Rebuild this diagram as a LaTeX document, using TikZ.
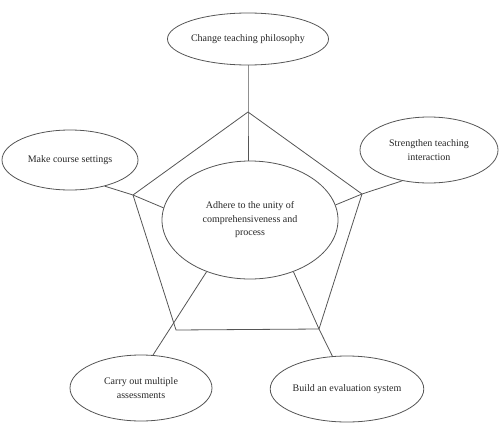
\documentclass[tikz,border=0pt]{standalone}
\usepackage{fontspec}
\setmainfont{Liberation Serif}
\usetikzlibrary{shapes.geometric}
\definecolor{linegray}{HTML}{555555}
\tikzset{
  oval/.style={ellipse, draw=linegray, line width=0.8pt, inner sep=0pt, align=center, font=\fontsize{10}{13.5}\selectfont, text=black!85},
  conn/.style={draw=linegray, line width=0.8pt}
}
\begin{document}
\begin{tikzpicture}[x=1pt,y=-1pt]
\useasboundingbox (0,0) rectangle (500,423);
% nodes
\node[oval, minimum width=140, minimum height=52] (T) at (248,39) {Change teaching philosophy};
\node[oval, minimum width=136, minimum height=60] (L) at (70,160) {Make course settings};
\node[oval, minimum width=138, minimum height=66] (R) at (429,150) {Strengthen teaching\\interaction};
\node[oval, minimum width=176, minimum height=118] (C) at (250,220) {Adhere to the unity of\\comprehensiveness and\\process};
\node[oval, minimum width=142, minimum height=66] (BL) at (141,388) {Carry out multiple\\assessments};
\node[oval, minimum width=140, minimum height=66] (BR) at (347,389) {Build an evaluation system};
% pentagon vertices
\coordinate (vT) at (248,112);
\coordinate (vL) at (133,195);
\coordinate (vR) at (362,194);
\coordinate (vBL) at (176,330);
\coordinate (vBR) at (319,329);
% pentagon
\draw[conn] (vT) -- (vR) -- (vBR) -- (vBL) -- (vL) -- cycle;
% connectors
\draw[conn] (T.south) -- (vT) -- (C.north -| vT);
\draw[conn] (L.-37) -- (vL) -- (C.172);
\draw[conn] (R.-131) -- (vR) -- (C.10);
\draw[conn] (BR.114) -- (vBR) -- (C.-50);
\draw[conn] (C.-130) -- (BL.70);
\end{tikzpicture}
\end{document}
